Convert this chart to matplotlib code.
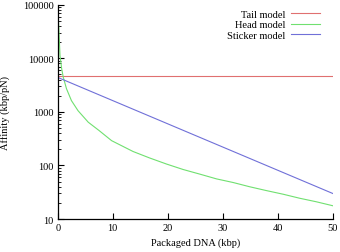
import matplotlib
matplotlib.use("Agg")
import matplotlib.pyplot as plt

# Data
tail_x = [0, 50]
tail_y = [4600, 4600]

sticker_x = [0, 50]
sticker_y = [4400, 30]

head_x = [0.0, 0.05, 0.24, 0.42, 0.73, 1.02, 1.6, 2.5, 3.7, 5.56, 7.5, 9.8,
          13.7, 16.7, 19.8, 22.8, 25.8, 28.9, 31.9, 34.9, 37.9, 41.0, 44.0, 47.0, 50.0]
head_y = [100000, 72000, 30000, 11200, 6300, 4400, 2700, 1620, 1050, 640, 450, 290,
          182, 138, 106, 84, 69, 56, 48, 40, 34, 29, 24.4, 21, 17.7]

xticks = [0, 10, 20, 30, 40, 50]
yticks = [10, 100, 1000, 10000, 100000]
ytick_labels = ["10", "100", "1000", "10000", "100000"]

plt.rcParams['font.family'] = ['Liberation Serif', 'DejaVu Serif']

fig = plt.figure(figsize=(3.4, 2.53), dpi=100)
ax = fig.add_axes([0.1697, 0.1304, 0.9785 - 0.1697, 0.9775 - 0.1304])

ax.plot(tail_x, tail_y, color='#e07070', lw=0.8, label='Tail model')
ax.plot(head_x, head_y, color='#70e070', lw=0.8, label='Head model')
ax.plot(sticker_x, sticker_y, color='#7070d8', lw=0.8, label='Sticker model')

ax.set_yscale('log')
ax.set_xlim(0, 50)
ax.set_ylim(10, 100000)
ax.set_xticks(xticks)
ax.set_xticklabels([str(t) for t in xticks])
ax.set_yticks(yticks)
ax.set_yticklabels(ytick_labels)

for s in ['top', 'right']:
    ax.spines[s].set_visible(False)
for s in ['left', 'bottom']:
    ax.spines[s].set_linewidth(0.9)

ax.tick_params(axis='both', which='major', direction='in', length=4, width=0.8, labelsize=7.5, pad=3)
ax.tick_params(axis='y', which='minor', direction='in', length=2, width=0.6)
ax.tick_params(axis='x', which='minor', bottom=False)

ax.set_xlabel('Packaged DNA (kbp)', fontsize=7.5, labelpad=4)
fig.text(0.016, 0.555, 'Affinity (kbp/pN)', rotation=90, fontsize=7.5, ha='center', va='center')

ax.legend(loc='upper right', bbox_to_anchor=(0.941, 0.958), bbox_transform=fig.transFigure,
          frameon=False, markerfirst=False, borderpad=0, borderaxespad=0,
          fontsize=7.5, handlelength=2.8, handletextpad=0.55, labelspacing=0.1)

fig.savefig('out.png', dpi=100)
